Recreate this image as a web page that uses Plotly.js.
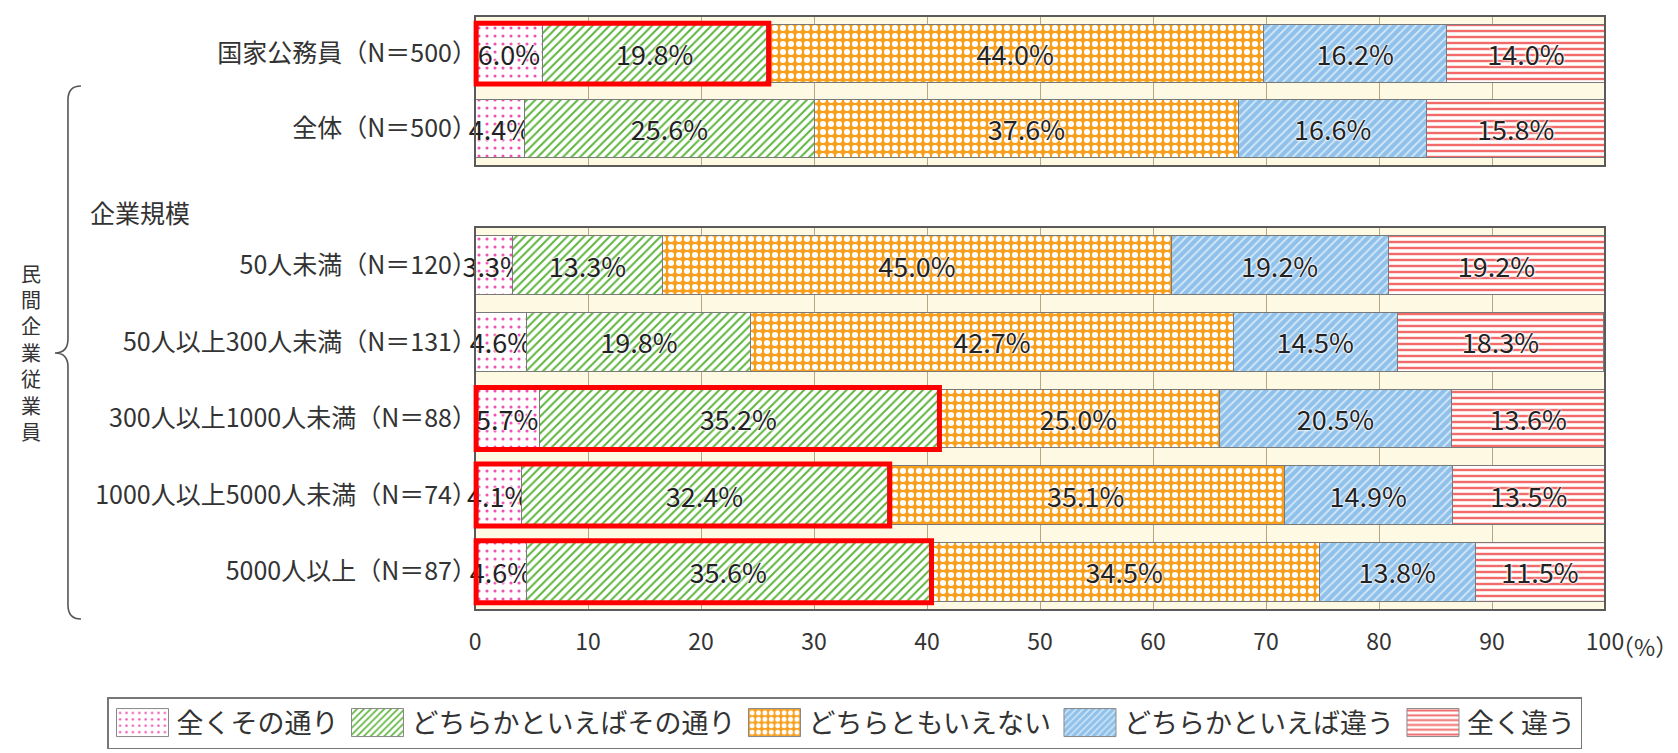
<!DOCTYPE html>
<html><head><meta charset="utf-8">
<script src="https://cdn.plot.ly/plotly-3.0.1.min.js"></script>
<style>html,body{margin:0;padding:0;background:#fff}#chart{width:1678px;height:753px}</style>
</head><body><div id="chart"></div>
<script>
// ---- data ----
const categories = ['国家公務員（N＝500）', '全体（N＝500）', '50人未満（N＝120）', '50人以上300人未満（N＝131）', '300人以上1000人未満（N＝88）', '1000人以上5000人未満（N＝74）', '5000人以上（N＝87）'];
const topCount = 2; // first two rows form the upper panel
const seriesNames = ['全くその通り', 'どちらかといえばその通り', 'どちらともいえない', 'どちらかといえば違う', '全く違う'];
const zenkuSonoTori = [6.0, 4.4, 3.3, 4.6, 5.7, 4.1, 4.6];
const dochiraSonoTori = [19.8, 25.6, 13.3, 19.8, 35.2, 32.4, 35.6];
const dochiraMo = [44.0, 37.6, 45.0, 42.7, 25.0, 35.1, 34.5];
const dochiraChigau = [16.2, 16.6, 19.2, 14.5, 20.5, 14.9, 13.8];
const zenkuChigau = [14.0, 15.8, 19.2, 18.3, 13.6, 13.5, 11.5];
const highlighted = ['国家公務員（N＝500）', '300人以上1000人未満（N＝88）', '1000人以上5000人未満（N＝74）', '5000人以上（N＝87）'];
const xTickVals = [0, 10, 20, 30, 40, 50, 60, 70, 80, 90, 100];
const xTickText = ['0', '10', '20', '30', '40', '50', '60', '70', '80', '90', '100'];
const unitLabel = '（%）';
const groupLabel = '民間企業従業員';
const subLabel = '企業規模';

// ---- styling ----
const seriesValues = [zenkuSonoTori, dochiraSonoTori, dochiraMo, dochiraChigau, zenkuChigau];
const patterns = [
  {shape: '.', fgcolor: '#f04fb4', bgcolor: '#ffffff', size: 8, solidity: 0.12},
  {shape: '/', fgcolor: '#5db53c', bgcolor: '#ffffff', size: 6, solidity: 0.33},
  {shape: '.', fgcolor: '#ffffff', bgcolor: '#f8a01e', size: 8, solidity: 0.45},
  {shape: '/', fgcolor: '#d6eafa', bgcolor: '#90c1ea', size: 6, solidity: 0.3},
  {shape: '-', fgcolor: '#f26a6a', bgcolor: '#ffffff', size: 6, solidity: 0.4}
];
const FONT = '"Noto Sans CJK JP", "Noto Sans", sans-serif';
const barWidth = 0.77;

const topCats = categories.slice(0, topCount);
const botCats = categories.slice(topCount);

const traces = [];
seriesValues.forEach((vals, i) => {
  const common = {
    type: 'bar', orientation: 'h', name: seriesNames[i], legendgroup: 's' + i,
    marker: {color: patterns[i].bgcolor, pattern: patterns[i], line: {color: '#7a7a7a', width: 1}},
    width: barWidth,
    textposition: 'inside', insidetextanchor: 'middle', textangle: 0, constraintext: 'none',
    cliponaxis: false,
    textfont: {family: FONT, size: 27, color: '#222', shadow: '0px 0px 2px #fff, 0px 0px 2px #fff, 0px 0px 3px #fff'},
    hoverinfo: 'skip'
  };
  const topVals = vals.slice(0, topCount), botVals = vals.slice(topCount);
  traces.push(Object.assign({}, common, {
    x: botVals, y: botCats, yaxis: 'y', xaxis: 'x', showlegend: true,
    text: botVals.map(v => v.toFixed(1) + '%')
  }));
  traces.push(Object.assign({}, common, {
    x: topVals, y: topCats, yaxis: 'y2', xaxis: 'x', showlegend: false,
    text: topVals.map(v => v.toFixed(1) + '%')
  }));
});

// plot area geometry in pixels
const L = 475, R = 1605, T = 16, B = 610;
const W = R - L, H = B - T;
const topDomain = [(B - 166) / H, 1];
const botDomain = [0, (B - 227) / H];
function P(x, y) { return ((x - L) / W).toFixed(4) + ',' + ((B - y) / H).toFixed(4); }

const shapes = [];
// panel frames
['y domain', 'y2 domain'].forEach(ref => shapes.push({
  type: 'rect', xref: 'paper', yref: ref, x0: 0, x1: 1, y0: 0, y1: 1,
  line: {color: '#5a5a5a', width: 2}, layer: 'above'
}));
// red highlight boxes around the first two segments
highlighted.forEach(cat => {
  const idx = categories.indexOf(cat);
  const inTop = idx < topCount;
  const n = inTop ? topCount : categories.length - topCount;
  const pos = inTop ? idx : idx - topCount;
  const frac = y => (n - 0.5 - y) / n; // reversed category axis -> domain fraction
  const cum = zenkuSonoTori[idx] + dochiraSonoTori[idx];
  shapes.push({
    type: 'rect', xref: 'paper', yref: inTop ? 'y2 domain' : 'y domain',
    x0: 0.001, x1: cum / 100 + 0.002,
    y0: frac(pos + barWidth / 2 + 0.02), y1: frac(pos - barWidth / 2 - 0.02),
    line: {color: '#ff0000', width: 5}, layer: 'above'
  });
});
// curly brace
shapes.push({
  type: 'path', xref: 'paper', yref: 'paper',
  path: `M${P(81, 86)} Q${P(68, 86)} ${P(68, 100)} L${P(68, 339)} Q${P(68, 353)} ${P(55, 353)} Q${P(68, 353)} ${P(68, 367)} L${P(68, 605)} Q${P(68, 619)} ${P(81, 619)}`,
  line: {color: '#555', width: 1.6}
});

const annotations = [
  {xref: 'paper', yref: 'paper', x: (88 - L) / W, y: (B - 212) / H, xanchor: 'left', yanchor: 'middle',
   text: subLabel, showarrow: false, font: {family: FONT, size: 25, color: '#333'}},
  {xref: 'x', yref: 'paper', x: 100, xshift: 4, y: (B - 646) / H, xanchor: 'left', yanchor: 'middle',
   text: unitLabel, showarrow: false, font: {family: FONT, size: 23, color: '#333'}}
];
// vertical group label, one character per line
groupLabel.split('').forEach((ch, i) => annotations.push({
  xref: 'paper', yref: 'paper', x: (31 - L) / W, y: (B - (273 + i * 26.4)) / H, xanchor: 'center', yanchor: 'middle',
  text: ch, showarrow: false, font: {family: FONT, size: 20, color: '#333'}
}));

const layout = {
  width: 1678, height: 753,
  margin: {l: L, r: 1678 - R, t: T, b: 753 - B, pad: 0, autoexpand: false},
  paper_bgcolor: '#ffffff', plot_bgcolor: '#fdf9e2',
  barmode: 'stack', bargap: 0,
  font: {family: FONT, color: '#333'},
  xaxis: {range: [0, 100], domain: [0, 1], anchor: 'y', tickvals: xTickVals, ticktext: xTickText,
          showgrid: true, gridcolor: '#b5a684', gridwidth: 1, zeroline: false, showline: false,
          ticks: '', ticklabelstandoff: 16, tickfont: {family: FONT, size: 23, color: '#333'}, fixedrange: true},
  yaxis: {domain: botDomain, anchor: 'x', type: 'category', categoryorder: 'array', categoryarray: botCats,
          range: [botCats.length - 0.5, -0.5], showgrid: false, zeroline: false, showline: false, ticks: '',
          ticklabelstandoff: -3, tickfont: {family: FONT, size: 25, color: '#333'}, fixedrange: true},
  yaxis2: {domain: topDomain, anchor: 'x', type: 'category', categoryorder: 'array', categoryarray: topCats,
           range: [topCats.length - 0.5, -0.5], showgrid: false, zeroline: false, showline: false, ticks: '',
           ticklabelstandoff: -3, tickfont: {family: FONT, size: 25, color: '#333'}, fixedrange: true},
  legend: {orientation: 'h', traceorder: 'normal', xref: 'paper', yref: 'paper',
           x: (107 - L) / W, xanchor: 'left', y: (B - 723) / H, yanchor: 'middle',
           bordercolor: '#777', borderwidth: 1.5, bgcolor: '#fff', itemwidth: 58,
           font: {family: FONT, size: 27, color: '#333'}, itemclick: false, itemdoubleclick: false},
  shapes: shapes, annotations: annotations,
  showlegend: true
};

Plotly.newPlot('chart', traces, layout, {displayModeBar: false, staticPlot: true}).then(gd => {
  // enlarge legend swatches to the wide boxes used in the original
  gd.querySelectorAll('.legend .legendpoints path').forEach(p => {
    p.setAttribute('d', 'M26,14H-26V-14H26Z');
    p.style.strokeWidth = '1px';
    p.style.stroke = '#888';
  });
});
</script>
</body></html>
